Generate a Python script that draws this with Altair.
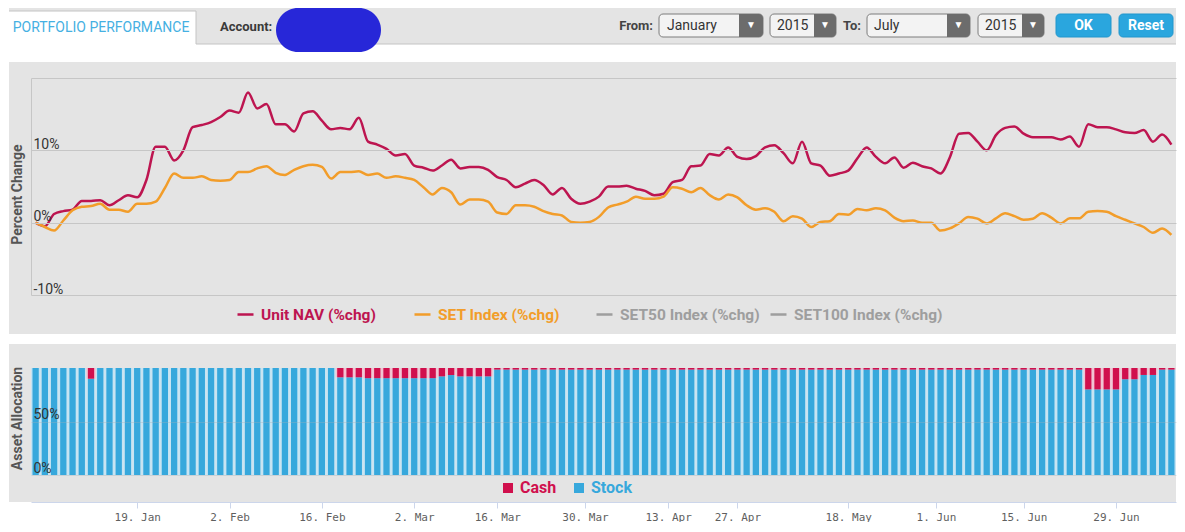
import altair as alt
import pandas as pd

# ---------------- data ----------------
nav = [0.0, -0.5, 1.2, 1.6, 1.8, 3.0, 3.0, 3.1, 2.4, 3.1,
       3.8, 3.5, 5.9, 10.5, 10.5, 8.6, 10.0, 13.2, 13.5, 13.9,
       14.6, 15.5, 15.2, 18.0, 15.8, 16.4, 13.6, 13.6, 12.6, 15.1,
       15.4, 14.1, 12.9, 13.1, 12.9, 14.5, 11.2, 10.8, 10.2, 9.3,
       9.5, 7.9, 7.6, 7.2, 7.9, 8.7, 7.5, 7.7, 7.7, 7.3,
       6.3, 5.9, 4.9, 5.4, 5.9, 5.2, 3.9, 4.8, 3.3, 2.6,
       2.9, 3.6, 5.0, 5.0, 5.1, 4.7, 4.4, 3.8, 4.0, 5.6,
       5.9, 7.8, 7.9, 9.5, 9.3, 10.4, 9.1, 8.8, 9.2, 10.4,
       10.7, 9.6, 8.2, 11.2, 8.2, 7.9, 6.5, 6.8, 7.2, 8.9,
       10.4, 9.1, 8.2, 9.0, 7.6, 8.3, 7.8, 7.5, 6.8, 9.0,
       12.3, 12.4, 11.2, 10.0, 12.1, 13.1, 13.3, 12.3, 11.8, 11.8,
       11.8, 11.5, 11.9, 10.5, 13.6, 13.2, 13.2, 12.9, 12.5, 12.4,
       12.8, 11.2, 12.2, 10.8]

set_index = [0.0, -0.6, -1.1, 0.3, 1.7, 2.2, 2.3, 2.6, 1.8, 1.8,
             1.5, 2.6, 2.6, 2.9, 4.8, 6.8, 6.2, 6.2, 6.4, 5.9,
             5.8, 5.9, 7.0, 7.0, 7.5, 7.8, 6.9, 6.6, 7.3, 7.8,
             8.0, 7.7, 6.1, 7.0, 7.0, 7.1, 6.6, 6.8, 6.2, 6.4,
             6.2, 5.9, 4.9, 3.9, 4.8, 4.2, 2.5, 3.2, 3.2, 2.9,
             1.4, 1.2, 2.4, 2.4, 2.2, 1.6, 1.2, 1.0, 0.1, 0.0,
             0.1, 0.8, 2.1, 2.5, 2.9, 3.6, 3.3, 3.3, 3.6, 4.9,
             4.7, 4.2, 4.8, 3.8, 3.2, 3.9, 3.5, 2.4, 1.8, 2.0,
             1.5, 0.2, 0.9, 0.55, -0.6, 0.1, 0.2, 1.2, 1.1, 1.9,
             1.7, 2.0, 1.7, 0.7, 0.2, 0.3, 0.0, 0.0, -1.1, -0.8,
             -0.1, 0.8, 0.55, -0.1, 0.6, 1.3, 0.9, 0.4, 0.55, 1.3,
             0.7, -0.1, 0.6, 0.6, 1.5, 1.6, 1.5, 0.9, 0.4, -0.1,
             -0.6, -1.4, -0.8, -1.7]

cash = [0, 0, 0, 0, 0, 0, 10, 0, 0, 0,
        0, 0, 0, 0, 0, 0, 0, 0, 0, 0,
        0, 0, 0, 0, 0, 0, 0, 0, 0, 0,
        0, 0, 0, 8.7, 8.7, 8.7, 9.5, 9.5, 9.5, 9.5,
        9.5, 9.5, 9.5, 9.5, 7.8, 6.6, 7.8, 7.8, 7.8, 7.8,
        1.5, 1.5, 1.5, 1.5, 1.5, 1.5, 1.5, 1.5, 1.5, 1.5,
        1.5, 1.5, 1.5, 1.5, 1.5, 1.5, 1.5, 1.5, 1.5, 1.5,
        1.5, 1.5, 1.5, 1.5, 1.5, 1.5, 1.5, 1.5, 1.5, 1.5,
        1.5, 1.5, 1.5, 1.5, 1.5, 1.5, 1.5, 1.5, 1.5, 1.5,
        1.5, 1.5, 1.5, 1.5, 1.5, 1.5, 1.5, 1.5, 1.5, 1.5,
        1.5, 1.5, 1.5, 1.5, 1.5, 1.5, 1.5, 1.5, 1.5, 1.5,
        1.5, 1.5, 1.5, 1.5, 20, 20, 20, 20, 10.5, 10.5,
        6.5, 6.5, 1.5, 1.5]

days = list(range(len(nav)))
tick_pos = [11, 21, 31, 41, 50, 59.5, 68.5, 76, 88, 97.5, 107, 117]
tick_labels = ["19. Jan", "2. Feb", "16. Feb", "2. Mar", "16. Mar", "30. Mar",
               "13. Apr", "27. Apr", "18. May", "1. Jun", "15. Jun", "29. Jun"]
series = ["Unit NAV (%chg)", "SET Index (%chg)", "SET50 Index (%chg)", "SET100 Index (%chg)"]
alloc = ["Cash", "Stock"]

# ---------------- styles ----------------
W = 1145
FONT = "Roboto"
C_NAV = "#bd1550"
C_SET = "#f29d2a"
C_OFF = "#9e9e9e"
C_STOCK = "#37a8dc"
C_CASH = "#d0104d"
PALE_STOCK = "#c6e4f3"
PALE_CASH = "#f2c2d2"
PANEL = "#e4e4e4"
GRID = "#c6c6c6"

n = len(nav)
xscale = alt.Scale(domain=[-0.5, n - 0.5], nice=False, zero=False)
one = pd.DataFrame({"k": [0]})

# ---------------- header (UI chrome) ----------------
HEAD_H = 44
GRAY_H = 36
pix = dict(x=alt.X("x:Q", scale=None, axis=None), x2="x2",
           y=alt.Y("y:Q", scale=None, axis=None), y2="y2")

head_fill = pd.DataFrame({
    "x": [-22, -22, -22], "x2": [W, 165, W],
    "y": [0, 3, GRAY_H], "y2": [GRAY_H, GRAY_H, HEAD_H],
    "c": ["#e4e4e4", "#ffffff", "#ffffff"]})
head_lines = pd.DataFrame({
    "x": [-22, 165, 165], "x2": [165, 165, W],
    "y": [3, 3, GRAY_H], "y2": [3, GRAY_H, GRAY_H]})
boxes = pd.DataFrame({"x": [628, 739, 836, 947], "x2": [732, 805, 939, 1013],
                      "y": [6] * 4, "y2": [29] * 4})
arrows = pd.DataFrame({"x": [708, 783, 916, 991], "x2": [732, 805, 939, 1013],
                       "y": [6] * 4, "y2": [29] * 4})
buttons = pd.DataFrame({"x": [1025, 1088], "x2": [1080, 1142], "y": [6, 6], "y2": [29, 29]})
blob = pd.DataFrame({"x": [245], "x2": [350], "y": [0], "y2": [44]})

def texts(rows, align, weight):
    df = pd.DataFrame(rows, columns=["label", "x", "y", "color", "size"])
    return alt.Chart(df).mark_text(align=align, baseline="middle", font=FONT,
                                   fontWeight=weight).encode(
        x=alt.X("x:Q", scale=None, axis=None), y=alt.Y("y:Q", scale=None, axis=None),
        text="label:N", color=alt.Color("color:N", scale=None),
        size=alt.Size("size:Q", scale=None))

header = alt.layer(
    alt.Chart(head_fill).mark_rect().encode(color=alt.Color("c:N", scale=None), **pix),
    alt.Chart(head_lines).mark_rule(color="#c4c4c4", strokeWidth=1).encode(**pix),
    alt.Chart(boxes).mark_rect(fill="#f3f3f3", stroke="#7c7c7c", strokeWidth=1,
                               cornerRadius=4).encode(**pix),
    alt.Chart(arrows).mark_rect(fill="#6c6c6c", cornerRadiusTopRight=4,
                                cornerRadiusBottomRight=4).encode(**pix),
    alt.Chart(buttons).mark_rect(fill="#2aa6de", stroke="#2196cc", cornerRadius=4).encode(**pix),
    alt.Chart(blob).mark_rect(fill="#2727d8", cornerRadius=22).encode(**pix),
    texts([["PORTFOLIO PERFORMANCE", 70, 20, "#45b0e2", 14]], "center", "normal"),
    texts([["OK", 1052.5, 18, "#ffffff", 14],
           ["Reset", 1115, 18, "#ffffff", 14]], "center", "bold"),
    texts([["▼", 720, 17, "#ffffff", 10], ["▼", 794, 17, "#ffffff", 10],
           ["▼", 927.5, 17, "#ffffff", 10], ["▼", 1002, 17, "#ffffff", 10]], "center", "normal"),
    texts([["Account:", 189, 19, "#3a3a3a", 13]], "left", "bold"),
    texts([["From:", 622, 18, "#444444", 13], ["To:", 830, 18, "#444444", 13]], "right", "bold"),
    texts([["January", 636, 18, "#333333", 14], ["2015", 746, 18, "#333333", 14],
           ["July", 843, 18, "#333333", 14], ["2015", 954, 18, "#333333", 14]], "left", "normal"),
).properties(width=W, height=HEAD_H)

# ---------------- line panel ----------------
LINE_H = 217

def line_legend(x, color):
    return alt.Legend(orient="none", legendX=x, legendY=227, direction="horizontal",
                      title=None, labelColor=color, labelFont=FONT, labelFontSize=15.5,
                      labelFontWeight="bold", symbolType="stroke", symbolSize=256,
                      symbolStrokeWidth=2.5, labelOffset=6, padding=0, columnPadding=5)

y_line_axis = alt.Axis(values=[-10, 0, 10, 20],
                       labelExpr="datum.value >= 20 ? '' : datum.value + '%'",
                       labelAlign="left", labelBaseline="alphabetic", labelPadding=-2,
                       labelOffset=-2, ticks=False, tickSize=0, domain=True,
                       domainColor=GRID, grid=True, gridColor=GRID, labelFont=FONT,
                       labelFontSize=14, labelColor="#333333", title="Percent Change",
                       titleX=-14, titleY=116, titleAngle=270, titleAlign="center",
                       titleBaseline="middle", titleFont=FONT, titleFontSize=14,
                       titleFontWeight="bold", titleColor="#555555", zindex=1)
y_line_scale = alt.Scale(domain=[-10, 20], nice=False, zero=False)

def y_line():
    return alt.Y("value:Q", scale=y_line_scale, axis=y_line_axis)

def x_line():
    return alt.X("day:Q", scale=xscale, axis=None)

df_nav = pd.DataFrame({"day": days, "value": nav, "series": series[0]})
df_set = pd.DataFrame({"day": days, "value": set_index, "series": series[1]})

line_bg = alt.Chart(one).mark_rect(color=PANEL).encode(
    x=alt.value(-22), x2=alt.value(W), y=alt.value(-16), y2=alt.value(256))
nav_line = alt.Chart(df_nav).mark_line(strokeWidth=2.5, interpolate="monotone").encode(
    x=x_line(), y=y_line(),
    color=alt.Color("series:N", scale=alt.Scale(domain=[series[0]], range=[C_NAV]),
                    legend=line_legend(205, C_NAV)))
set_line = alt.Chart(df_set).mark_line(strokeWidth=2.5, interpolate="monotone").encode(
    x=x_line(), y=y_line(),
    color=alt.Color("series:N", scale=alt.Scale(domain=[series[1]], range=[C_SET]),
                    legend=line_legend(382, C_SET)))
off_line = alt.Chart(alt.Data(values=[])).mark_line().encode(
    x=x_line(), y=y_line(),
    color=alt.Color("series:N", scale=alt.Scale(domain=series[2:], range=[C_OFF, C_OFF]),
                    legend=line_legend(564, C_OFF)))

line_panel = alt.layer(line_bg, nav_line, set_line, off_line).resolve_scale(
    color="independent").properties(width=W, height=LINE_H)

# ---------------- allocation panel ----------------
BAR_H = 107
labels_js = "[" + ",".join("'" + s + "'" for s in tick_labels) + "]"
pos_js = "[" + ",".join(str(p) for p in tick_pos) + "]"
x_bar_axis = alt.Axis(values=tick_pos, labelExpr=labels_js + "[indexof(" + pos_js + ", datum.value)]",
                      title=None, grid=False, domainColor="#ccd6eb", tickColor="#ccd6eb",
                      tickSize=6, offset=27, labelPadding=3, labelFont="DejaVu Sans Mono",
                      labelFontSize=11, labelColor="#5f5f5f", labelOverlap=False,
                      labelFlush=False, zindex=1)
y_bar_axis = alt.Axis(values=[0, 50], labelExpr="datum.value + '%'", labelAlign="left",
                      labelBaseline="alphabetic", labelPadding=-2, labelOffset=-3,
                      ticks=False, tickSize=0, domain=False, grid=True, gridColor="#9fb0ba",
                      gridOpacity=0.35, labelFont=FONT, labelFontSize=14,
                      labelColor="#333333", title="Asset Allocation", titleX=-14, titleY=50,
                      titleAngle=270, titleAlign="center", titleBaseline="middle",
                      titleFont=FONT, titleFontSize=14, titleFontWeight="bold",
                      titleColor="#555555", zindex=1)
y_bar_scale = alt.Scale(domain=[0, 100], nice=False)

def bx(field):
    return alt.X(field + ":Q", scale=xscale, axis=x_bar_axis)

def by(field):
    return alt.Y(field + ":Q", scale=y_bar_scale, axis=y_bar_axis)

def sq_legend(x, color):
    return alt.Legend(orient="none", legendX=x, legendY=112, title=None,
                      labelColor=color, labelFont=FONT, labelFontSize=16,
                      labelFontWeight="bold", symbolType="square", symbolSize=100,
                      symbolStrokeWidth=0, labelOffset=4, padding=0)

df_alloc = pd.DataFrame({"day": days, "cash": cash})
bar_base = alt.Chart(df_alloc).transform_calculate(
    stock="100 - datum.cash", lo="0", hi="100",
    xa="datum.day - 0.5", xb="datum.day + 0.5",
    xs="datum.day - 0.34", xe="datum.day + 0.34",
    stock_name="'" + alloc[1] + "'", cash_name="'" + alloc[0] + "'")

bar_bg = alt.Chart(one).mark_rect(color=PANEL).encode(
    x=alt.value(-22), x2=alt.value(W), y=alt.value(-24), y2=alt.value(134))
pale_stock = bar_base.mark_rect(color=PALE_STOCK).encode(
    x=bx("xa"), x2="xb", y=by("lo"), y2="stock")
pale_cash = bar_base.transform_filter("datum.cash > 0").mark_rect(color=PALE_CASH).encode(
    x=bx("xa"), x2="xb", y=by("stock"), y2="hi")
solid_stock = bar_base.mark_rect().encode(
    x=bx("xs"), x2="xe", y=by("lo"), y2="stock",
    color=alt.Color("stock_name:N", scale=alt.Scale(domain=[alloc[1]], range=[C_STOCK]),
                    legend=sq_legend(540, C_STOCK)))
solid_cash = bar_base.transform_filter("datum.cash > 0").mark_rect().encode(
    x=bx("xs"), x2="xe", y=by("stock"), y2="hi",
    color=alt.Color("cash_name:N", scale=alt.Scale(domain=[alloc[0]], range=[C_CASH]),
                    legend=sq_legend(469, C_CASH)))

bar_panel = alt.layer(bar_bg, pale_stock, pale_cash, solid_stock, solid_cash).resolve_scale(
    color="independent").properties(width=W, height=BAR_H)

chart = alt.vconcat(header, line_panel, bar_panel, spacing=10, padding=0)
chart = chart.configure(font=FONT).configure_view(strokeWidth=0)

chart.save("out.html", embed_options={"renderer": "svg", "actions": False})
